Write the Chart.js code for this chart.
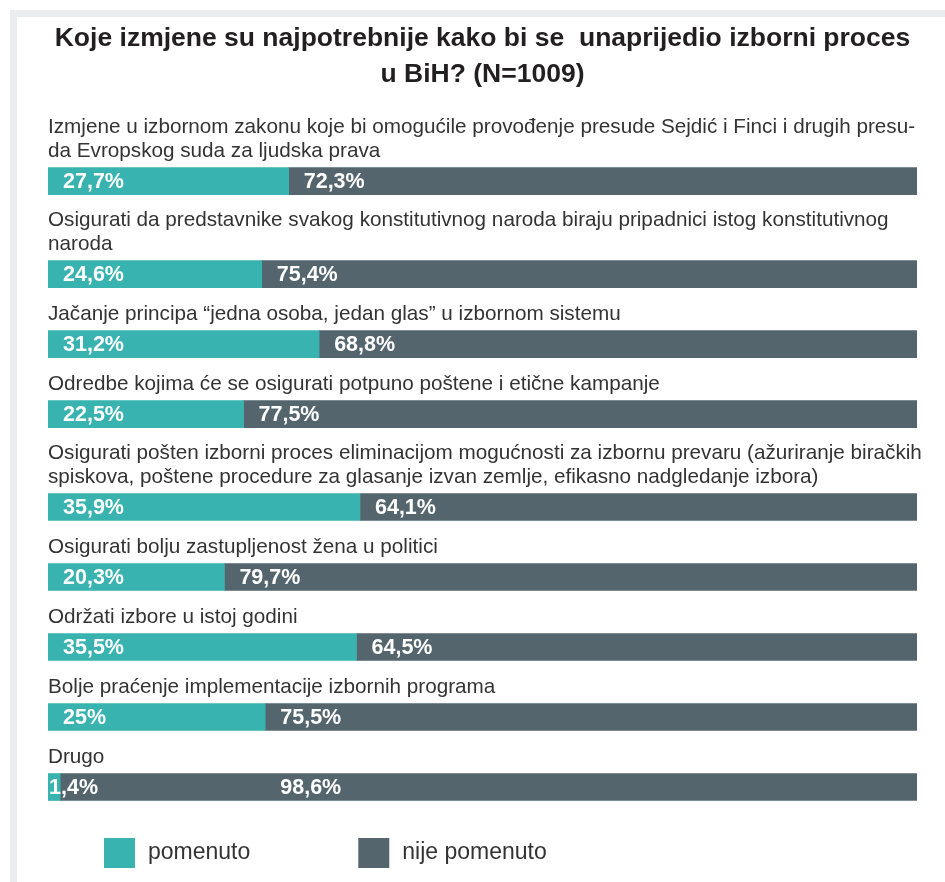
<!DOCTYPE html>
<html>
<head>
<meta charset="utf-8">
<script src="https://cdn.jsdelivr.net/npm/chart.js@4"></script>
<style>
  html, body { margin: 0; padding: 0; background: #fff; }
  #wrap { position: relative; width: 945px; height: 882px; overflow: hidden; }
  #frame { position: absolute; left: 10px; top: 10px; right: 0; bottom: 0;
           border-top: 7px solid #e9edf0; border-left: 7px solid #e9edf0; }
  #chart { position: absolute; left: 0; top: 0; }
</style>
</head>
<body>
<div id="wrap"><div id="frame"></div><canvas id="chart" width="945" height="882"></canvas></div>
<script>
"use strict";

const TITLE = [
  "Koje izmjene su najpotrebnije kako bi se  unaprijedio izborni proces",
  "u BiH? (N=1009)",
];

// each category is split into its printed lines
const CATEGORIES = [
  ["Izmjene u izbornom zakonu koje bi omogućile provođenje presude Sejdić i Finci i drugih presu-",
   "da Evropskog suda za ljudska prava"],
  ["Osigurati da predstavnike svakog konstitutivnog naroda biraju pripadnici istog konstitutivnog",
   "naroda"],
  ["Jačanje principa “jedna osoba, jedan glas” u izbornom sistemu"],
  ["Odredbe kojima će se osigurati potpuno poštene i etične kampanje"],
  ["Osigurati pošten izborni proces eliminacijom mogućnosti za izbornu prevaru (ažuriranje biračkih",
   "spiskova, poštene procedure za glasanje izvan zemlje, efikasno nadgledanje izbora)"],
  ["Osigurati bolju zastupljenost žena u politici"],
  ["Održati izbore u istoj godini"],
  ["Bolje praćenje implementacije izbornih programa"],
  ["Drugo"],
];

const MENTIONED = [27.7, 24.6, 31.2, 22.5, 35.9, 20.3, 35.5, 25, 1.4];
const NOT_MENTIONED = [72.3, 75.4, 68.8, 77.5, 64.1, 79.7, 64.5, 75.5, 98.6];
const SERIES_NAMES = ["pomenuto", "nije pomenuto"];

const TEAL = "#38b3b0";
const SLATE = "#54656e";
const TEXT = "#333333";
const FONT = "'Liberation Sans', Arial, Helvetica, sans-serif";

// rows sit on a hidden linear axis: every row takes its label lines plus a bar block
const LINE_H = 23;
const ROW_GAP = 47;
const rowPos = [];
{
  let y = 35;
  for (const lines of CATEGORIES) {
    y += lines.length * LINE_H;
    rowPos.push(y);
    y += ROW_GAP;
  }
}

const pct = (v) => String(v).replace(".", ",") + "%";

const median = (arr) => {
  const s = [...arr].sort((a, b) => a - b);
  return s[Math.floor(s.length / 2)];
};

const rowLabels = {
  id: "rowLabels",
  afterDatasetsDraw(chart) {
    const { ctx, chartArea } = chart;
    const teal = chart.getDatasetMeta(0).data;
    const dark = chart.getDatasetMeta(1).data;
    const typicalSplit = chart.scales.x.getPixelForValue(median(MENTIONED));
    ctx.save();
    ctx.textAlign = "left";
    teal.forEach((bar, i) => {
      const top = bar.y - bar.height / 2;
      const lines = CATEGORIES[i];
      ctx.font = `20.7px ${FONT}`;
      ctx.fillStyle = TEXT;
      ctx.textBaseline = "alphabetic";
      lines.forEach((line, k) => {
        ctx.fillText(line, chartArea.left, top - 11 - (lines.length - 1 - k) * 24);
      });

      ctx.font = `bold 21.5px ${FONT}`;
      ctx.fillStyle = "#fff";
      ctx.textBaseline = "middle";
      const left = Math.min(bar.x, bar.base);
      const w = Math.abs(bar.x - bar.base);
      const tText = pct(MENTIONED[i]);
      const narrow = w < ctx.measureText(tText).width + 30;
      ctx.fillText(tText, narrow ? left + 1 : left + 15, bar.y + 1);
      const d = dark[i];
      const dx = narrow ? typicalSplit + 15 : Math.min(d.x, d.base) + 15;
      ctx.fillText(pct(NOT_MENTIONED[i]), dx, bar.y + 1);
    });
    ctx.restore();
  },
};

const legendRow = {
  id: "legendRow",
  afterDraw(chart) {
    const { ctx, chartArea } = chart;
    const colors = [TEAL, SLATE];
    let x = chartArea.left + 56;
    const y = chartArea.bottom + 8;
    ctx.save();
    ctx.font = `23px ${FONT}`;
    ctx.textBaseline = "middle";
    ctx.textAlign = "left";
    SERIES_NAMES.forEach((name, i) => {
      ctx.fillStyle = colors[i];
      ctx.fillRect(x, y, 31, 30);
      x += 44;
      ctx.fillStyle = TEXT;
      ctx.fillText(name, x, y + 15);
      x += ctx.measureText(name).width + 108;
    });
    ctx.restore();
  },
};

new Chart(document.getElementById("chart"), {
  type: "bar",
  data: {
    datasets: [
      {
        label: SERIES_NAMES[0],
        data: MENTIONED.map((v, i) => ({ x: v, y: rowPos[i] })),
        backgroundColor: TEAL,
        barThickness: 27,
      },
      {
        label: SERIES_NAMES[1],
        data: NOT_MENTIONED.map((v, i) => ({ x: v, y: rowPos[i] })),
        backgroundColor: SLATE,
        barThickness: 27,
      },
    ],
  },
  options: {
    indexAxis: "y",
    responsive: false,
    animation: false,
    devicePixelRatio: 1,
    layout: { padding: { top: 0, left: 48, right: 28, bottom: 52 } },
    scales: {
      x: { type: "linear", stacked: true, min: 0, max: 100, display: false, offset: false },
      y: { type: "linear", stacked: true, min: 0, max: 730, reverse: true, display: false, offset: false },
    },
    plugins: {
      title: {
        display: true,
        text: TITLE,
        color: "#231f20",
        font: { family: FONT, size: 26.5, weight: "bold", lineHeight: 1.36 },
        padding: { top: 21, bottom: 7 },
      },
      legend: { display: false },
      tooltip: { enabled: false },
    },
  },
  plugins: [rowLabels, legendRow],
});
</script>
</body>
</html>
